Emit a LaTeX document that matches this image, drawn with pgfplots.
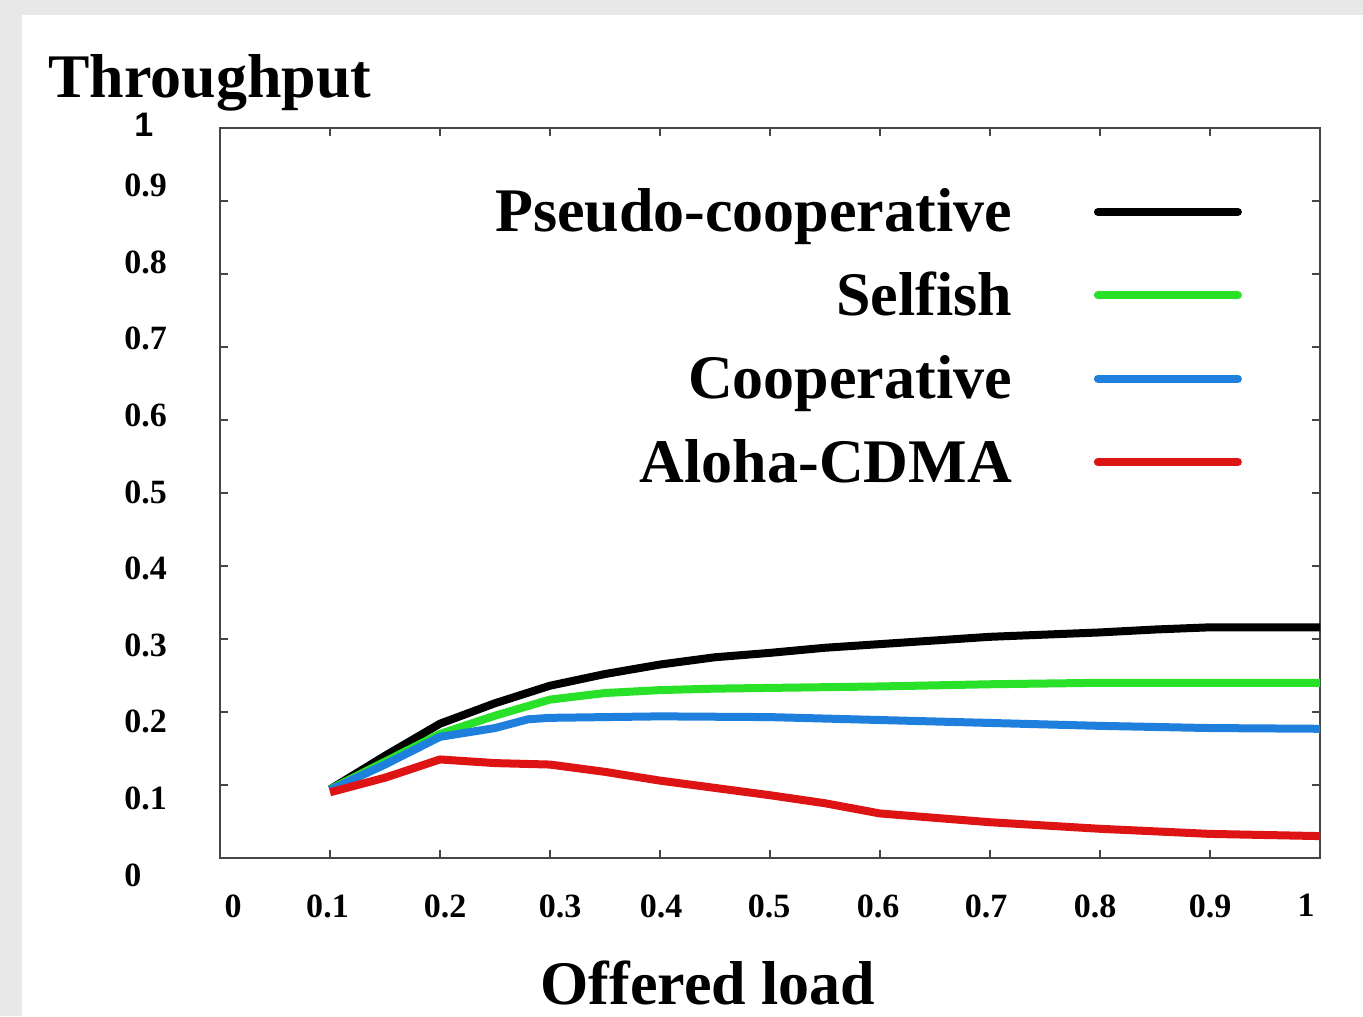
\documentclass[border=0pt]{standalone}
\usepackage{fontspec}
\setmainfont{Liberation Serif}
\newfontfamily\arialb{Liberation Sans}
\usepackage{pgfplots}
\pgfplotsset{compat=1.18}
\usetikzlibrary{backgrounds}
\definecolor{framegray}{RGB}{232,232,232}
\definecolor{axisgray}{RGB}{70,70,70}
\definecolor{selfgreen}{RGB}{40,225,40}
\definecolor{coopblue}{RGB}{30,128,220}
\definecolor{alohared}{RGB}{222,20,20}

\begin{document}
\begin{tikzpicture}
\begin{axis}[
  scale only axis,
  width=550pt, height=365pt,
  xmin=0, xmax=1, ymin=0, ymax=1,
  xtick={0,0.1,0.2,0.3,0.4,0.5,0.6,0.7,0.8,0.9,1},
  ytick={0,0.1,0.2,0.3,0.4,0.5,0.6,0.7,0.8,0.9,1},
  yticklabels={0,0.1,0.2,0.3,0.4,0.5,0.6,0.7,0.8,0.9,{\hspace{5pt}{\arialb 1}}},
  tick align=inside,
  major tick length=4pt,
  tick style={line width=1pt, color=axisgray},
  axis line style={line width=1.3pt, color=axisgray},
  /pgf/number format/assume math mode=true,
  xticklabel style={font=\fontsize{17}{19}\selectfont\bfseries, anchor=north, inner sep=0pt, yshift=-18pt,
    xshift={{6.5,-1.25,2.5,5,0.5,-0.5,-1,-2,-2.5,0,-7}[\ticknum]*1pt}},
  yticklabel style={font=\fontsize{17}{19}\selectfont\bfseries, anchor=west, inner sep=0pt, xshift=-48pt,
    yshift={{-8.5,-6.7,-4.9,-3.1,-1.3,0.5,2.3,4.1,5.9,7.7,1.5}[\ticknum]*1pt}},
  every axis plot/.append style={line width=4pt, line join=round},
  legend cell align=right,
  legend plot pos=right,
  legend image code/.code={\draw[#1, line width=4pt, line cap=round] (0pt,2pt) -- (70pt,2pt);},
  legend style={draw=none, fill=none, at={(0.929,0.918)}, anchor=north east,
    inner sep=0pt, outer sep=0pt, row sep=13.7pt, column sep=41pt,
    font=\fontsize{31}{36}\selectfont\bfseries,
    nodes={inner sep=0pt, text height=22pt, text depth=6pt}},
]
\addplot[color=black] coordinates {
  (0.1,0.094) (0.15,0.140) (0.2,0.184) (0.25,0.212) (0.3,0.236) (0.35,0.252)
  (0.4,0.265) (0.45,0.275) (0.5,0.281) (0.55,0.288) (0.6,0.293) (0.65,0.298)
  (0.7,0.303) (0.75,0.306) (0.8,0.309) (0.85,0.313) (0.9,0.316) (1.0,0.316)};
\addlegendentry{Pseudo-cooperative}
\addplot[color=selfgreen] coordinates {
  (0.1,0.094) (0.15,0.132) (0.2,0.170) (0.25,0.195) (0.3,0.217) (0.35,0.226)
  (0.4,0.230) (0.45,0.232) (0.5,0.233) (0.6,0.235) (0.7,0.238) (0.8,0.240)
  (1.0,0.240)};
\addlegendentry{Selfish}
\addplot[color=coopblue] coordinates {
  (0.1,0.093) (0.15,0.128) (0.2,0.166) (0.25,0.178) (0.28,0.190) (0.3,0.192)
  (0.4,0.194) (0.5,0.193) (0.6,0.189) (0.7,0.185) (0.8,0.181) (0.9,0.178)
  (1.0,0.177)};
\addlegendentry{Cooperative}
\addplot[color=alohared] coordinates {
  (0.1,0.090) (0.15,0.110) (0.2,0.135) (0.25,0.130) (0.3,0.128) (0.35,0.118)
  (0.4,0.106) (0.45,0.096) (0.5,0.086) (0.55,0.075) (0.6,0.061) (0.65,0.055)
  (0.7,0.049) (0.8,0.040) (0.9,0.033) (1.0,0.030)};
\addlegendentry{Aloha-CDMA}
\end{axis}
\node[anchor=base west, inner sep=0pt, font=\fontsize{31}{36}\selectfont\bfseries] at (-86pt,380pt) {Throughput};
\node[anchor=base, inner sep=0pt, font=\fontsize{31}{36}\selectfont\bfseries] at (244pt,-73pt) {Offered load};
\begin{scope}[on background layer]
\fill[framegray] (-110pt,-79pt) rectangle (571.5pt,429pt);
\fill[white] (-99pt,-79pt) rectangle (571.5pt,421.5pt);
\end{scope}
\pgfresetboundingbox
\useasboundingbox (-110pt,-79pt) rectangle (571.5pt,429pt);
\end{tikzpicture}
\end{document}
